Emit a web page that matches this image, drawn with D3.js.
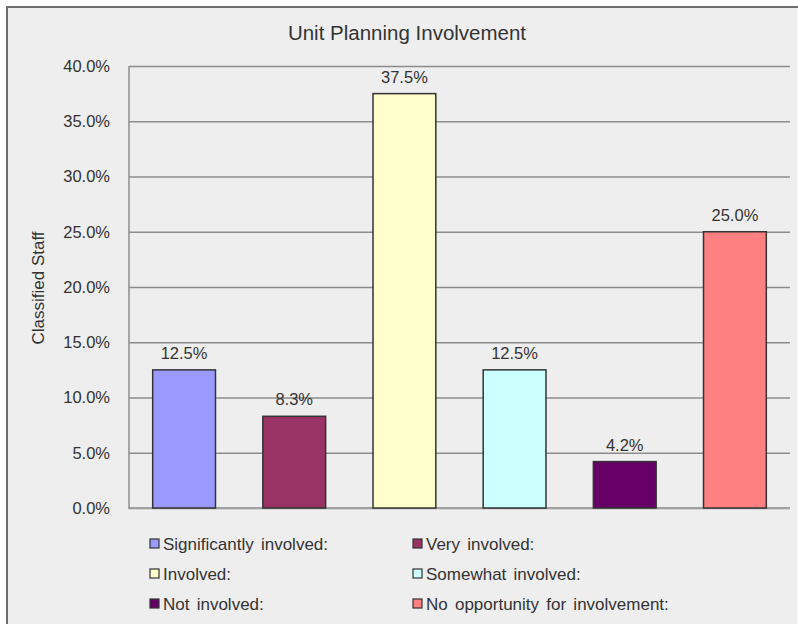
<!DOCTYPE html>
<html>
<head>
<meta charset="utf-8">
<script src="https://cdn.jsdelivr.net/npm/d3@7"></script>
<style>
  html, body { margin: 0; padding: 0; background: #fff; }
  svg { display: block; font-family: "Liberation Sans", Arial, sans-serif; }
</style>
</head>
<body>
<svg id="chart" width="798" height="624"></svg>
<script>
// Survey responses: share of classified staff by involvement level
const categories = [
  "Significantly involved:",
  "Very involved:",
  "Involved:",
  "Somewhat involved:",
  "Not involved:",
  "No opportunity for involvement:"
];
const values = [12.5, 8.3, 37.5, 12.5, 4.2, 25.0];
const colors = ["#9999FF", "#993366", "#FFFFCC", "#CCFFFF", "#660066", "#FF8080"];
const yTicks = [0, 5, 10, 15, 20, 25, 30, 35, 40];
const chartTitle = "Unit Planning Involvement";
const yAxisTitle = "Classified Staff";

const svg = d3.select("#chart");
const W = 798, H = 624;
const plot = { left: 129, right: 790, top: 66, bottom: 508 };
const textColor = "#333";

// Chart background and frame
svg.append("rect").attr("x", 7).attr("y", 7).attr("width", W - 7).attr("height", H - 7)
  .attr("fill", "#eeeeee");
svg.append("line").attr("x1", 7).attr("x2", 7).attr("y1", 6).attr("y2", H)
  .attr("stroke", "#6e6e6e").attr("stroke-width", 2);
svg.append("line").attr("x1", 6).attr("x2", W).attr("y1", 7).attr("y2", 7)
  .attr("stroke", "#6e6e6e").attr("stroke-width", 2);
svg.append("line").attr("x1", W - 0.5).attr("x2", W - 0.5).attr("y1", 8).attr("y2", H)
  .attr("stroke", "#f8f8f8").attr("stroke-width", 1);

const x = d3.scaleBand().domain(categories).range([plot.left, plot.right])
  .paddingInner(0.43).paddingOuter(0.215);
const y = d3.scaleLinear().domain([0, 40]).range([plot.bottom, plot.top]);

// Gridlines and tick labels
const yAxis = d3.axisLeft(y).tickValues(yTicks)
  .tickSize(-(plot.right - plot.left)).tickPadding(19)
  .tickFormat(d => d3.format(".1f")(d) + "%");
const gy = svg.append("g").attr("transform", `translate(${plot.left},0)`).call(yAxis);
gy.select(".domain").remove();
gy.selectAll(".tick line").attr("stroke", "#8c8c8c").attr("stroke-width", 1.5);
gy.selectAll(".tick text").attr("fill", textColor).attr("font-size", 16.5);
// Baseline
svg.append("line").attr("x1", plot.left).attr("x2", plot.right)
  .attr("y1", y(0)).attr("y2", y(0)).attr("stroke", "#a0a0a0").attr("stroke-width", 2);
// Vertical axis line
svg.append("line").attr("x1", plot.left).attr("x2", plot.left)
  .attr("y1", plot.top).attr("y2", y(0) + 1).attr("stroke", "#8c8c8c").attr("stroke-width", 1.5);

// Bars
svg.append("g").selectAll("rect").data(values).join("rect")
  .attr("x", (d, i) => x(categories[i]))
  .attr("y", d => y(d))
  .attr("width", x.bandwidth())
  .attr("height", d => y(0) - y(d))
  .attr("fill", (d, i) => colors[i])
  .attr("stroke", "#333").attr("stroke-width", 1.5);

// Value labels
svg.append("g").selectAll("text").data(values).join("text")
  .attr("x", (d, i) => x(categories[i]) + x.bandwidth() / 2)
  .attr("y", d => y(d) - 11)
  .attr("text-anchor", "middle")
  .attr("fill", textColor).attr("font-size", 16.5)
  .text(d => d3.format(".1f")(d) + "%");

// Title
svg.append("text").attr("x", 407).attr("y", 40).attr("text-anchor", "middle")
  .attr("fill", textColor).attr("font-size", 20.5).text(chartTitle);

// Axis title
svg.append("text").attr("transform", "translate(44,288) rotate(-90)")
  .attr("text-anchor", "middle").attr("fill", textColor).attr("font-size", 17)
  .text(yAxisTitle);

// Legend: two columns, three rows
const legend = svg.append("g");
const item = legend.selectAll("g").data(categories).join("g")
  .attr("transform", (d, i) => `translate(${i % 2 === 0 ? 150 : 413},${543.5 + Math.floor(i / 2) * 30})`);
item.append("rect").attr("x", 0).attr("y", -4.5).attr("width", 9).attr("height", 9)
  .attr("fill", (d, i) => colors[i]).attr("stroke", "#333").attr("stroke-width", 1.2);
item.append("text").attr("x", 13).attr("y", 6)
  .attr("fill", textColor).attr("font-size", 17).attr("word-spacing", 2.5).text(d => d);
</script>
</body>
</html>
